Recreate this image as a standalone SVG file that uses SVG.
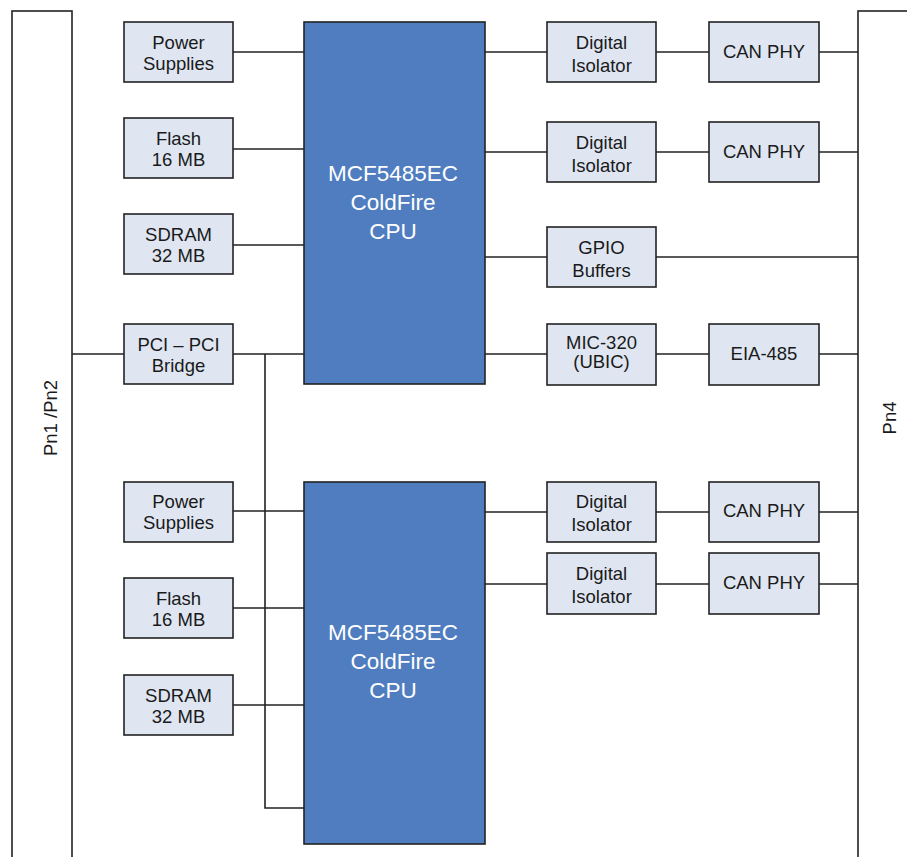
<svg xmlns="http://www.w3.org/2000/svg" width="907" height="857" viewBox="0 0 907 857">
<style>
.box{fill:#dfe6f2;stroke:#222;stroke-width:1.6}
.cpu{fill:#4f7dbf;stroke:#222;stroke-width:1.6}
.conn{fill:#fff;stroke:#222;stroke-width:1.6}
.t{font-family:"Liberation Sans",Arial,sans-serif;font-size:18.5px;fill:#1a1a1a;text-anchor:middle}
.ct{font-family:"Liberation Sans",Arial,sans-serif;font-size:22.5px;fill:#fff;text-anchor:middle}
#wires line,#wires polyline{stroke:#222;stroke-width:1.6;fill:none}
</style>
<rect width="907" height="857" fill="#fff"/>
<g id="wires">
<line x1="233" y1="52" x2="304" y2="52"/>
<line x1="233" y1="149" x2="304" y2="149"/>
<line x1="233" y1="245" x2="304" y2="245"/>
<line x1="72" y1="354" x2="124" y2="354"/>
<line x1="233" y1="354" x2="304" y2="354"/>
<polyline points="265,354 265,808 304,808"/>
<line x1="233" y1="511" x2="304" y2="511"/>
<line x1="233" y1="608" x2="304" y2="608"/>
<line x1="233" y1="705" x2="304" y2="705"/>
<line x1="485" y1="52" x2="547" y2="52"/>
<line x1="656" y1="52" x2="709" y2="52"/>
<line x1="819" y1="52" x2="858" y2="52"/>
<line x1="485" y1="152" x2="547" y2="152"/>
<line x1="656" y1="152" x2="709" y2="152"/>
<line x1="819" y1="152" x2="858" y2="152"/>
<line x1="485" y1="257" x2="547" y2="257"/>
<line x1="656" y1="257" x2="858" y2="257"/>
<line x1="485" y1="354" x2="547" y2="354"/>
<line x1="656" y1="354" x2="709" y2="354"/>
<line x1="819" y1="354" x2="858" y2="354"/>
<line x1="485" y1="512" x2="547" y2="512"/>
<line x1="656" y1="512" x2="709" y2="512"/>
<line x1="819" y1="512" x2="858" y2="512"/>
<line x1="485" y1="584" x2="547" y2="584"/>
<line x1="656" y1="584" x2="709" y2="584"/>
<line x1="819" y1="584" x2="858" y2="584"/>
</g>
<g id="pn12"><rect class="conn" x="12" y="11" width="60" height="860"/><text class="t" transform="translate(57,418) rotate(-90)">Pn1 /Pn2</text></g>
<g id="pn4"><rect class="conn" x="858" y="11" width="60" height="860"/><text class="t" transform="translate(896,418) rotate(-90)">Pn4</text></g>
<g id="ps1"><rect class="box" x="124" y="22" width="109" height="60"/><text class="t" x="178.5" y="49">Power</text><text class="t" x="178.5" y="70">Supplies</text></g>
<g id="flash1"><rect class="box" x="124" y="118" width="109" height="60"/><text class="t" x="178.5" y="145">Flash</text><text class="t" x="178.5" y="166">16 MB</text></g>
<g id="sdram1"><rect class="box" x="124" y="214" width="109" height="60"/><text class="t" x="178.5" y="241">SDRAM</text><text class="t" x="178.5" y="262">32 MB</text></g>
<g id="pci"><rect class="box" x="124" y="324" width="109" height="60"/><text class="t" x="178.5" y="351">PCI – PCI</text><text class="t" x="178.5" y="372">Bridge</text></g>
<g id="cpu1"><rect class="cpu" x="304" y="22" width="181" height="362"/><text class="ct" x="393" y="181">MCF5485EC</text><text class="ct" x="393" y="210">ColdFire</text><text class="ct" x="393" y="239">CPU</text></g>
<g id="ps2"><rect class="box" x="124" y="482" width="109" height="60"/><text class="t" x="178.5" y="508">Power</text><text class="t" x="178.5" y="529">Supplies</text></g>
<g id="flash2"><rect class="box" x="124" y="578" width="109" height="60"/><text class="t" x="178.5" y="605">Flash</text><text class="t" x="178.5" y="626">16 MB</text></g>
<g id="sdram2"><rect class="box" x="124" y="675" width="109" height="60"/><text class="t" x="178.5" y="702">SDRAM</text><text class="t" x="178.5" y="723">32 MB</text></g>
<g id="cpu2"><rect class="cpu" x="304" y="482" width="181" height="362"/><text class="ct" x="393" y="640">MCF5485EC</text><text class="ct" x="393" y="669">ColdFire</text><text class="ct" x="393" y="698">CPU</text></g>
<g id="iso1"><rect class="box" x="547" y="22" width="109" height="60"/><text class="t" x="601.5" y="49">Digital</text><text class="t" x="601.5" y="72">Isolator</text></g>
<g id="can1"><rect class="box" x="709" y="22" width="110" height="60"/><text class="t" x="764" y="58">CAN PHY</text></g>
<g id="iso2"><rect class="box" x="547" y="122" width="109" height="60"/><text class="t" x="601.5" y="149">Digital</text><text class="t" x="601.5" y="172">Isolator</text></g>
<g id="can2"><rect class="box" x="709" y="122" width="110" height="60"/><text class="t" x="764" y="158">CAN PHY</text></g>
<g id="gpio"><rect class="box" x="547" y="227" width="109" height="60"/><text class="t" x="601.5" y="254">GPIO</text><text class="t" x="601.5" y="277">Buffers</text></g>
<g id="mic"><rect class="box" x="547" y="324" width="109" height="61"/><text class="t" x="601.5" y="349">MIC-320</text><text class="t" x="601.5" y="368">(UBIC)</text></g>
<g id="eia"><rect class="box" x="709" y="324" width="110" height="61"/><text class="t" x="764" y="360">EIA-485</text></g>
<g id="iso3"><rect class="box" x="547" y="482" width="109" height="60"/><text class="t" x="601.5" y="508">Digital</text><text class="t" x="601.5" y="531">Isolator</text></g>
<g id="can3"><rect class="box" x="709" y="482" width="110" height="60"/><text class="t" x="764" y="517">CAN PHY</text></g>
<g id="iso4"><rect class="box" x="547" y="553" width="109" height="61"/><text class="t" x="601.5" y="580">Digital</text><text class="t" x="601.5" y="603">Isolator</text></g>
<g id="can4"><rect class="box" x="709" y="553" width="110" height="61"/><text class="t" x="764" y="589">CAN PHY</text></g>
</svg>
